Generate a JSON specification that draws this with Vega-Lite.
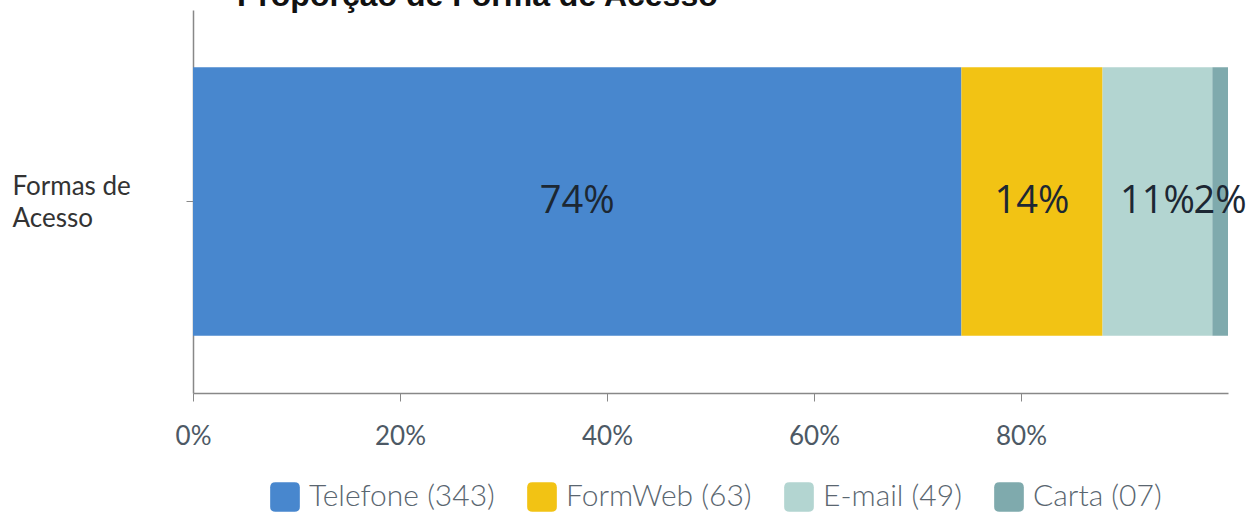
{
  "$schema": "https://vega.github.io/schema/vega-lite/v6.json",
  "width": 1035,
  "height": 383,
  "autosize": {"type": "none"},
  "padding": {"left": 193, "top": 10, "right": 19, "bottom": 120},
  "background": "white",
  "config": {"view": {"stroke": null}},
  "title": {
    "text": "Proporção de Forma de Acesso",
    "anchor": "start",
    "frame": "group",
    "dx": 44,
    "offset": -28,
    "baseline": "alphabetic",
    "font": "Liberation Sans",
    "fontSize": 32,
    "fontWeight": "bold",
    "color": "#111111"
  },
  "data": {
    "values": [
      {"grupo": "Formas de Acesso", "forma": "Telefone (343)", "ordem": 1, "n": 343, "pct": 0.742},
      {"grupo": "Formas de Acesso", "forma": "FormWeb (63)", "ordem": 2, "n": 63, "pct": 0.136},
      {"grupo": "Formas de Acesso", "forma": "E-mail (49)", "ordem": 3, "n": 49, "pct": 0.106},
      {"grupo": "Formas de Acesso", "forma": "Carta (07)", "ordem": 4, "n": 7, "pct": 0.015}
    ]
  },
  "encoding": {
    "y": {
      "field": "grupo",
      "type": "nominal",
      "title": null,
      "scale": {"paddingInner": 0.176, "paddingOuter": 0.176},
      "axis": {
        "labelExpr": "['Formas de', 'Acesso']",
        "labelAlign": "left",
        "labelBaseline": "middle",
        "labelPadding": 174,
        "labelOffset": -15,
        "labelFont": "Lato",
        "labelFontSize": 26,
        "labelColor": "#333333",
        "labelLineHeight": 32,
        "tickSize": 7,
        "tickColor": "#888888",
        "domainColor": "#888888",
        "domainWidth": 1.5
      }
    },
    "x": {
      "field": "n",
      "type": "quantitative",
      "stack": "normalize",
      "title": null,
      "scale": {"domain": [0, 1]},
      "axis": {
        "values": [0, 0.2, 0.4, 0.6, 0.8],
        "format": ".0%",
        "grid": false,
        "labelFlush": false,
        "labelFont": "Lato",
        "labelFontSize": 26,
        "labelColor": "#4d5965",
        "labelPadding": 22,
        "tickSize": 8,
        "tickColor": "#888888",
        "domainColor": "#888888",
        "domainWidth": 1.5
      }
    },
    "order": {"field": "ordem", "type": "quantitative"}
  },
  "layer": [
    {
      "mark": {"type": "bar"},
      "encoding": {
        "color": {
          "field": "forma",
          "type": "nominal",
          "sort": ["Telefone (343)", "FormWeb (63)", "E-mail (49)", "Carta (07)"],
          "scale": {
            "domain": ["Telefone (343)", "FormWeb (63)", "E-mail (49)", "Carta (07)"],
            "range": ["#4887CE", "#F2C314", "#B3D5D1", "#7FAAAD"]
          },
          "legend": {
            "title": null,
            "orient": "none",
            "direction": "horizontal",
            "legendX": 77,
            "legendY": 472,
            "symbolType": "M-0.65,-1 H0.65 Q1,-1 1,-0.65 V0.65 Q1,1 0.65,1 H-0.65 Q-1,1 -1,0.65 V-0.65 Q-1,-1 -0.65,-1 Z",
            "symbolSize": 880,
            "symbolStrokeWidth": 0,
            "symbolOpacity": 1,
            "labelFont": "Lato",
            "labelFontSize": 30,
            "labelFontWeight": 300,
            "labelColor": "#5a6670",
            "labelOffset": 9,
            "columnPadding": 32,
            "labelLimit": 300
          }
        }
      }
    },
    {
      "mark": {"type": "text", "font": "Open Sans", "fontSize": 38, "color": "#1c2733", "baseline": "middle", "align": "center"},
      "encoding": {
        "x": {"field": "n", "type": "quantitative", "stack": "normalize", "bandPosition": 0.5},
        "text": {"field": "pct", "type": "quantitative", "format": ".0%"}
      }
    }
  ]
}
